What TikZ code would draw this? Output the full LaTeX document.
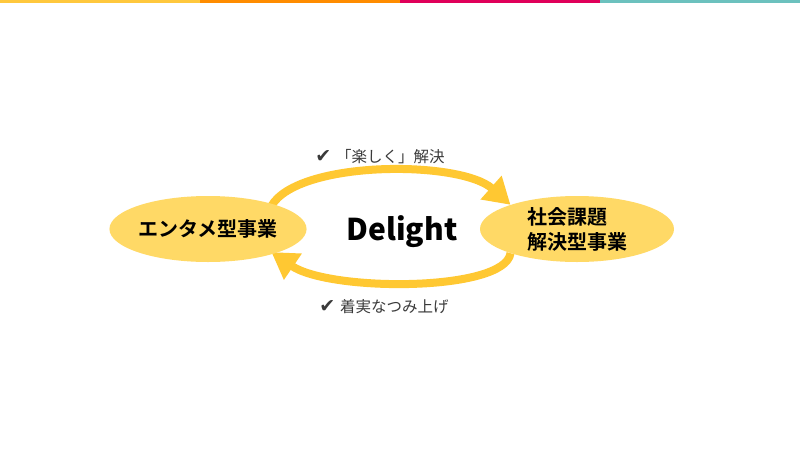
\documentclass[tikz,border=0pt]{standalone}
\usepackage{fontspec}
\setmainfont{Noto Sans CJK JP}
\newfontfamily\jpbold[BoldFont={Noto Sans CJK JP Bold}]{Noto Sans CJK JP}
\newfontfamily\symfont{DejaVu Sans}
\usetikzlibrary{shapes.geometric,arrows.meta}
\definecolor{barY}{HTML}{FFC83D}
\definecolor{barO}{HTML}{FF8C00}
\definecolor{barR}{HTML}{E0005A}
\definecolor{barT}{HTML}{6CC1BE}
\definecolor{ellfill}{HTML}{FFD966}
\definecolor{arrowcol}{HTML}{FFC832}
\definecolor{labelcol}{HTML}{3A3A3A}
\tikzset{
  bizell/.style={ellipse, fill=ellfill, inner sep=0pt, minimum height=66pt, font=\jpbold\bfseries\fontsize{20}{25}\selectfont, text=black},
  cyclearrow/.style={draw=arrowcol, line width=8pt, -{Triangle[length=26pt,width=30pt]}},
  looplabel/.style={font=\fontsize{15.5}{18}\selectfont, text=labelcol},
  checkmark/.style={font=\symfont\fontsize{19}{20}\selectfont},
  topbar/.style={inner sep=0pt, minimum height=3pt, minimum width=200pt, anchor=north west}
}
\begin{document}
\begin{tikzpicture}[x=1pt,y=-1pt]
\useasboundingbox (0,0) rectangle (800,450);
\fill[white] (0,0) rectangle (800,450);
\node[topbar, fill=barY] (b1) at (0,0) {};
\node[topbar, fill=barO] (b2) at (200,0) {};
\node[topbar, fill=barR] (b3) at (400,0) {};
\node[topbar, fill=barT] (b4) at (600,0) {};
\coordinate (lc) at (208,229);
\coordinate (rc) at (577,229);
% arrows (drawn first, ellipses cover their ends)
\node[bizell, minimum width=176pt, fill=none] (L) at (lc) {};
\node[bizell, minimum width=194pt, fill=none] (R) at (rc) {};
\draw[cyclearrow] (L.20) .. controls (298,160) and (460,160) .. (R.160);
\draw[cyclearrow] (R.-160) .. controls (505,292) and (330,292) .. (L.-20);
% ellipses on top
\node[bizell, minimum width=176pt] (L2) at (lc) {エンタメ型事業};
\node[bizell, minimum width=194pt, align=left] (R2) at (rc) {社会課題\\解決型事業};
\node[font=\bfseries\fontsize{30}{34}\selectfont, text=black] (D) at (402,232) {Delight};
\node[looplabel] (t1) at (380,157) {{\symfont\fontsize{19}{20}\selectfont ✔}\hspace{5pt}「楽しく」解決};
\node[looplabel] (t2) at (384,307) {{\symfont\fontsize{19}{20}\selectfont ✔}\hspace{5pt}着実なつみ上げ};
\end{tikzpicture}
\end{document}
